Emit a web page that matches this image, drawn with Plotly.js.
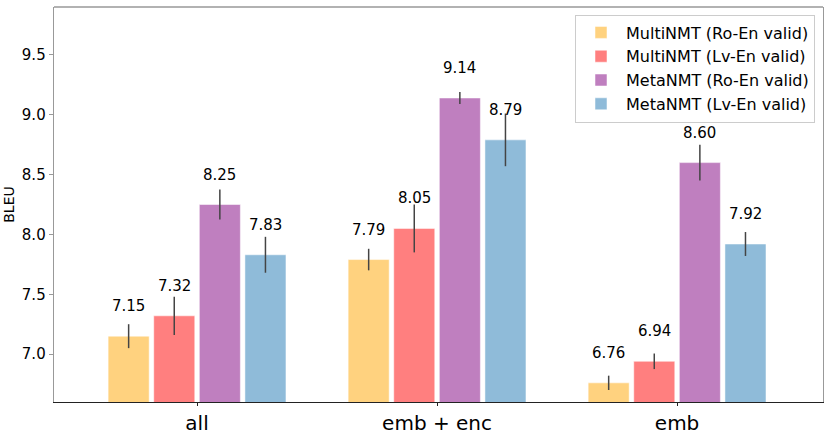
<!DOCTYPE html>
<html>
<head>
<meta charset="utf-8">
<script src="https://cdn.plot.ly/plotly-3.0.1.min.js"></script>
<style>
  html, body { margin: 0; padding: 0; background: #fff; }
  #chart { width: 831px; height: 434px; }
</style>
</head>
<body>
<div id="chart"></div>
<script>
// settings compared
let settings = ['all', 'emb + enc', 'emb'];

// one entry per bar series
let seriesNames = ['MultiNMT (Ro-En valid)', 'MultiNMT (Lv-En valid)', 'MetaNMT (Ro-En valid)', 'MetaNMT (Lv-En valid)'];
let multiRo = [7.15, 7.79, 6.76];
let multiLv = [7.32, 8.05, 6.94];
let metaRo  = [8.25, 9.14, 8.60];
let metaLv  = [7.83, 8.79, 7.92];

// std (error bar half length)
let multiRoErr = [0.10, 0.09, 0.06];
let multiLvErr = [0.16, 0.20, 0.065];
let metaRoErr  = [0.125, 0.05, 0.15];
let metaLvErr  = [0.15, 0.22, 0.10];

let yTicks = [7.0, 7.5, 8.0, 8.5, 9.0, 9.5];

let colors = ['#ffd27f', '#ff7f7f', '#bf7fbf', '#8fbbd9'];
let font = 'DejaVu Sans, sans-serif';

let values = [multiRo, multiLv, metaRo, metaLv];
let errs = [multiRoErr, multiLvErr, metaRoErr, metaLvErr];

let bargap = 0.24;
let slot = (1 - bargap) / values.length;

var data = [];
var annotations = [];
values.forEach((v, i) => {
    data.push({
        type: 'bar', name: seriesNames[i], x: settings, y: v,
        marker: {color: colors[i], line: {color: 'rgba(255,255,255,0.5)', width: 1}},
        error_y: {type: 'data', array: errs[i], visible: true, color: '#444', thickness: 1.5, width: 0},
    });
    v.forEach((val, k) => {
        annotations.push({
            x: k + (i - (values.length - 1) / 2) * slot, y: val, xref: 'x', yref: 'y',
            text: val.toFixed(2), showarrow: false, yanchor: 'bottom', yshift: 19,
            font: {family: font, size: 15, color: '#000'},
        });
    });
});

// top frame line (gray, like the left/right spines)
var shapes = [{type: 'line', xref: 'paper', yref: 'paper', x0: 0, x1: 1, y0: 1, y1: 1, line: {color: '#999', width: 1.3}}];

var layout = {
    width: 831, height: 434,
    margin: {l: 54, r: 8, t: 7, b: 32},
    paper_bgcolor: '#fff', plot_bgcolor: '#fff',
    barmode: 'group', bargap: bargap, bargroupgap: 0.1,
    font: {family: font, color: '#000'},
    xaxis: {
        type: 'category', range: [-0.596, 2.608],
        showline: true, linecolor: '#222', linewidth: 1.3,
        ticks: 'outside', ticklen: 3, tickcolor: '#222',
        tickfont: {size: 20, family: font},
        showgrid: false, zeroline: false,
    },
    yaxis: {
        range: [6.6, 9.9], tickvals: yTicks, ticktext: yTicks.map(t => t.toFixed(1)),
        showline: true, mirror: true, linecolor: '#999', linewidth: 1.3,
        ticks: 'outside', ticklen: 4, tickcolor: '#999',
        tickfont: {size: 15, family: font},
        showgrid: false, zeroline: false,
        title: {text: 'BLEU', font: {size: 14, family: font}, standoff: 4},
    },
    legend: {
        x: 0.9896, y: 0.981, xanchor: 'right', yanchor: 'top',
        bgcolor: 'rgba(255,255,255,0.8)', bordercolor: '#ccc', borderwidth: 1,
        font: {size: 16, family: font}, itemwidth: 40, tracegroupgap: 0,
    },
    annotations: annotations,
    shapes: shapes,
};

Plotly.newPlot('chart', data, layout, {displayModeBar: false, staticPlot: true});
</script>
</body>
</html>
